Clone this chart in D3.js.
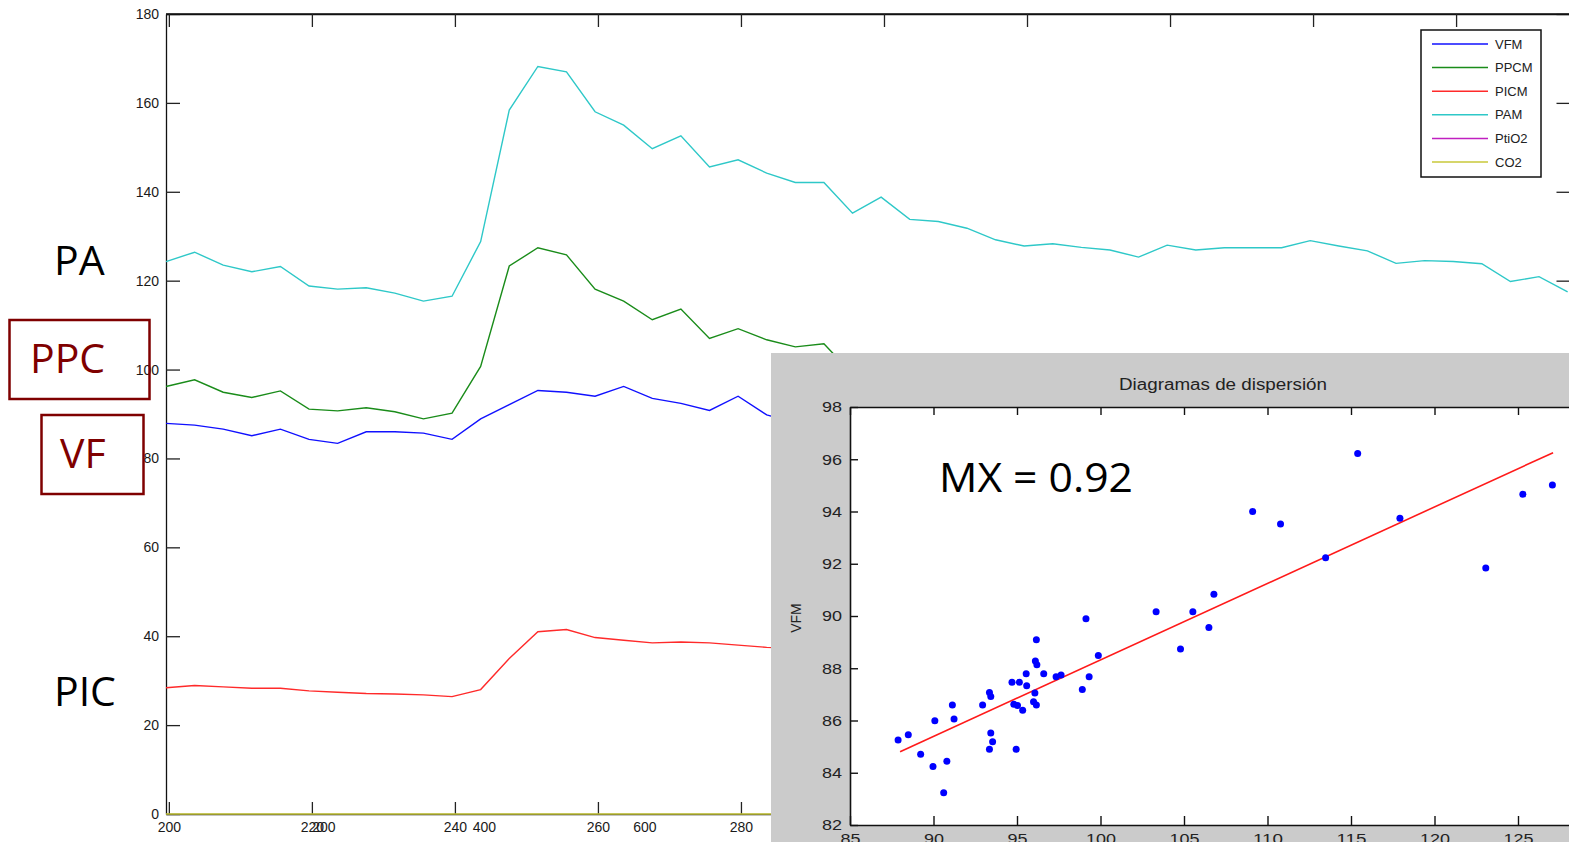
<!DOCTYPE html>
<html>
<head>
<meta charset="utf-8">
<script src="https://cdn.jsdelivr.net/npm/d3@7"></script>
<style>
  html, body { margin: 0; padding: 0; background: #fff; }
  svg { display: block; }
</style>
</head>
<body>
<svg id="chart" width="1569" height="842"></svg>
<script>
// Sample times (min) of the monitoring record
const times = [199.6,203.6,207.6,211.6,215.6,219.6,223.6,227.6,231.6,235.6,239.6,243.6,247.6,251.6,255.6,259.6,263.6,267.6,271.6,275.6,279.6,283.6,287.6,291.6,295.6,299.6,303.6,307.6,311.6,315.6,319.6,323.6,327.6,331.6,335.6,339.6,343.6,347.6,351.6,355.6,359.6,363.6,367.6,371.6,375.6,379.6,383.6,387.6,391.6,395.6];

// Mean arterial pressure
const pam = [124.3,126.4,123.5,122.0,123.2,118.8,118.1,118.4,117.2,115.4,116.5,128.8,158.4,168.2,167.0,158.0,155.0,149.7,152.6,145.6,147.2,144.2,142.1,142.1,135.2,138.8,133.8,133.3,131.8,129.2,127.8,128.3,127.5,126.9,125.3,128.0,126.9,127.4,127.4,127.4,129.0,127.8,126.7,123.9,124.5,124.3,123.8,119.8,120.9,117.5];
// Cerebral perfusion pressure
const ppcm = [96.2,97.7,94.9,93.7,95.2,91.1,90.7,91.4,90.5,88.9,90.2,100.7,123.3,127.4,125.8,118.1,115.4,111.2,113.6,107.0,109.2,106.7,105.1,105.8,99.0];
// Flow velocity
const vfm = [87.9,87.5,86.6,85.1,86.6,84.3,83.4,86.0,86.0,85.7,84.3,88.9,92.1,95.3,94.9,94.0,96.2,93.5,92.4,90.8,94.0,89.8,88.0];
// Intracranial pressure
const picm = [28.4,28.9,28.6,28.3,28.3,27.7,27.4,27.1,27.0,26.8,26.4,28.0,35.0,41.0,41.5,39.7,39.1,38.5,38.7,38.5,38.0,37.5,37.3];
// End-tidal CO2
const co2 = [0,0,0,0,0,0,0,0,0,0,0,0,0,0,0,0,0,0,0,0,0,0,0,0,0,0,0,0,0,0,0,0,0,0,0,0,0,0,0,0,0,0,0,0,0,0,0,0,0,0];

const legendNames = ["VFM","PPCM","PICM","PAM","PtiO2","CO2"];
const legendColors = ["#1010ff","#1a8c1a","#ff2a2a","#2ec8c8","#c020c0","#c8c83a"];

const yTicks = [0,20,40,60,80,100,120,140,160,180];
const xTicks = [200,220,240,260,280,300,320,340,360,380];
const xTicks2 = [200,400,600];

// Scatter panel: PAM vs VFM
const scatterX = [87.88,88.49,89.23,89.97,90.08,90.61,90.80,91.13,91.23,92.94,93.35,93.43,93.43,93.54,93.35,94.70,95.14,94.81,95.03,95.34,94.95,95.55,95.58,96.07,95.99,96.16,96.10,96.19,96.16,96.60,97.34,97.64,98.91,99.13,99.32,99.87,103.33,104.79,105.53,106.49,106.79,109.11,110.78,113.48,115.40,117.93,123.07,125.29,127.06];
const scatterY = [85.25,85.45,84.71,84.24,85.99,83.23,84.44,86.59,86.06,86.59,87.07,86.92,85.52,85.19,84.90,87.46,87.46,86.62,86.57,86.39,84.90,87.79,87.33,87.05,86.72,86.59,88.28,88.13,89.09,87.79,87.67,87.74,87.19,89.89,87.67,88.49,90.16,88.74,90.16,89.56,90.83,94.00,93.52,92.23,96.22,93.74,91.84,94.66,95.01];
const fitSlope = 0.2927;
const fitIntercept = 59.05;
const fitRange = [88.0, 127.1];
const scatterXTicks = [85,90,95,100,105,110,115,120,125,130];
const scatterYTicks = [82,84,86,88,90,92,94,96,98];

const svg = d3.select("#chart");
const axisFont = "'Liberation Sans', Arial, sans-serif";

// ---------- main time-series axes ----------
const x = d3.scaleLinear().domain([199.6, 396]).range([166, 1570.5]);
const x2 = d3.scaleLinear().domain([0, 1750]).range([163, 1567]);
const y = d3.scaleLinear().domain([0, 180]).range([814, 14]);
const insetLeft = 771;

function styleAxis(g, fs) {
  g.selectAll(".domain").attr("stroke", "#111").attr("stroke-width", 1.3);
  g.selectAll(".tick line").attr("stroke", "#222").attr("stroke-width", 1.3);
  g.selectAll("text").attr("fill", "#1a1a1a").attr("font-size", fs).attr("font-family", axisFont);
}

const main = svg.append("g");

// frame top edge
main.append("line").attr("x1", 166).attr("x2", 1569).attr("y1", 14).attr("y2", 14)
  .attr("stroke", "#111").attr("stroke-width", 1.3);

main.append("g").attr("transform", "translate(166,0)")
  .call(d3.axisLeft(y).tickValues(yTicks).tickSizeInner(-14).tickSizeOuter(0).tickPadding(7))
  .call(g => styleAxis(g, 14));

main.append("g").attr("transform", "translate(1570.5,0)")
  .call(d3.axisRight(y).tickValues(yTicks).tickSizeInner(-14).tickSizeOuter(0).tickFormat(""))
  .call(g => styleAxis(g, 14));

// bottom axis: only the ticks left of the scatter panel are uncovered
main.append("g").attr("transform", "translate(0,814)")
  .call(d3.axisBottom(x).tickValues(xTicks.filter(t => x(t) < insetLeft))
    .tickSizeInner(-12).tickSizeOuter(0).tickPadding(8))
  .call(g => styleAxis(g, 14));

main.append("g").attr("transform", "translate(0,14)")
  .call(d3.axisTop(x).tickValues(xTicks).tickSizeInner(-13).tickSizeOuter(0).tickFormat(""))
  .call(g => styleAxis(g, 14));

// second set of labels sharing the bottom edge
main.append("g").attr("transform", "translate(0,814)")
  .call(d3.axisBottom(x2).tickValues(xTicks2).tickSize(0).tickPadding(8))
  .call(g => { g.select(".domain").remove(); styleAxis(g, 14); });

// series lines
const line = d3.line().x((d, i) => x(times[i])).y(d => y(d));
const seriesList = [
  { data: pam, color: legendColors[3] },
  { data: ppcm, color: legendColors[1] },
  { data: vfm, color: legendColors[0] },
  { data: picm, color: legendColors[2] },
  { data: co2, color: legendColors[5] }
];
main.selectAll("path.series").data(seriesList).join("path")
  .attr("class", "series")
  .attr("d", s => line(s.data))
  .attr("fill", "none")
  .attr("stroke", s => s.color)
  .attr("stroke-width", 1.4);

// legend
const lg = main.append("g").attr("transform", "translate(1421,30)");
lg.append("rect").attr("width", 120).attr("height", 147)
  .attr("fill", "#fff").attr("stroke", "#111").attr("stroke-width", 1.5);
const rows = lg.selectAll("g.row").data(legendNames).join("g")
  .attr("class", "row")
  .attr("transform", (d, i) => `translate(0,${14 + i * 23.6})`);
rows.append("line").attr("x1", 11).attr("x2", 67).attr("y1", 0).attr("y2", 0)
  .attr("stroke", (d, i) => legendColors[i]).attr("stroke-width", 1.5);
rows.append("text").attr("x", 74).attr("y", 0).attr("dy", "0.35em")
  .attr("font-family", axisFont).attr("font-size", 13).attr("fill", "#222")
  .text(d => d);

// side annotations
const annFont = "'Open Sans', 'Noto Sans', sans-serif";
svg.append("text").attr("x", 54).attr("y", 275).attr("font-family", annFont)
  .attr("font-size", 41).attr("fill", "#000").text("PA");
svg.append("text").attr("x", 54).attr("y", 706).attr("font-family", annFont)
  .attr("font-size", 41).attr("fill", "#000").text("PIC");
svg.append("rect").attr("x", 9.5).attr("y", 320).attr("width", 140).attr("height", 79)
  .attr("fill", "none").attr("stroke", "#7f0000").attr("stroke-width", 2.5);
svg.append("text").attr("x", 30).attr("y", 373).attr("font-family", annFont)
  .attr("font-size", 41).attr("fill", "#7f0000").text("PPC");
svg.append("rect").attr("x", 41.5).attr("y", 415).attr("width", 102).attr("height", 79)
  .attr("fill", "none").attr("stroke", "#7f0000").attr("stroke-width", 2.5);
svg.append("text").attr("x", 60).attr("y", 468).attr("font-family", annFont)
  .attr("font-size", 41).attr("fill", "#7f0000").text("VF");

// ---------- scatter panel ----------
const inset = svg.append("g");
inset.append("rect").attr("x", insetLeft).attr("y", 353).attr("width", 800).attr("height", 490)
  .attr("fill", "#cbcbcb");

const sx = d3.scaleLinear().domain([85, 130]).range([850, 1601.5]);
const sy = d3.scaleLinear().domain([82, 98]).range([825, 407]);

inset.append("rect").attr("x", 850).attr("y", 407).attr("width", 760).attr("height", 418)
  .attr("fill", "#fff");

inset.append("text").attr("x", 1223).attr("y", 384).attr("dy", "0.35em")
  .attr("text-anchor", "middle").attr("font-family", axisFont).attr("font-size", 16)
  .attr("fill", "#222").attr("textLength", 208).attr("lengthAdjust", "spacingAndGlyphs")
  .text("Diagramas de dispersión");

function styleInsetAxis(g) {
  g.selectAll(".domain").attr("stroke", "#111").attr("stroke-width", 1.6);
  g.selectAll(".tick line").attr("stroke", "#111").attr("stroke-width", 1.4);
  g.selectAll("text").attr("fill", "#222").attr("font-size", 15).attr("font-family", axisFont)
    .attr("textLength", d => String(d).length * 10).attr("lengthAdjust", "spacingAndGlyphs");
}

inset.append("g").attr("transform", "translate(850,0)")
  .call(d3.axisLeft(sy).tickValues(scatterYTicks).tickSizeInner(-8).tickSizeOuter(0).tickPadding(8))
  .call(styleInsetAxis);
inset.append("g").attr("transform", "translate(0,825)")
  .call(d3.axisBottom(sx).tickValues(scatterXTicks).tickSizeInner(-9).tickSizeOuter(0).tickPadding(8))
  .call(styleInsetAxis);
inset.append("g").attr("transform", "translate(0,407)")
  .call(d3.axisTop(sx).tickValues(scatterXTicks).tickSizeInner(-8).tickSizeOuter(0).tickFormat(""))
  .call(styleInsetAxis);

inset.append("text").attr("transform", "translate(801,618) rotate(-90)")
  .attr("text-anchor", "middle").attr("font-family", axisFont).attr("font-size", 14)
  .attr("fill", "#222").text("VFM");

// regression line
inset.append("line")
  .attr("x1", sx(fitRange[0])).attr("y1", sy(fitIntercept + fitSlope * fitRange[0]))
  .attr("x2", sx(fitRange[1])).attr("y2", sy(fitIntercept + fitSlope * fitRange[1]))
  .attr("stroke", "#ff1a1a").attr("stroke-width", 1.6);

inset.selectAll("circle.pt").data(scatterX).join("circle")
  .attr("class", "pt")
  .attr("cx", d => sx(d))
  .attr("cy", (d, i) => sy(scatterY[i]))
  .attr("r", 3.5)
  .attr("fill", "#0000ff");

inset.append("text").attr("x", 939).attr("y", 492).attr("font-family", annFont)
  .attr("font-size", 41).attr("fill", "#000").attr("textLength", 194)
  .attr("lengthAdjust", "spacingAndGlyphs").text("MX = 0.92");
</script>
</body>
</html>
